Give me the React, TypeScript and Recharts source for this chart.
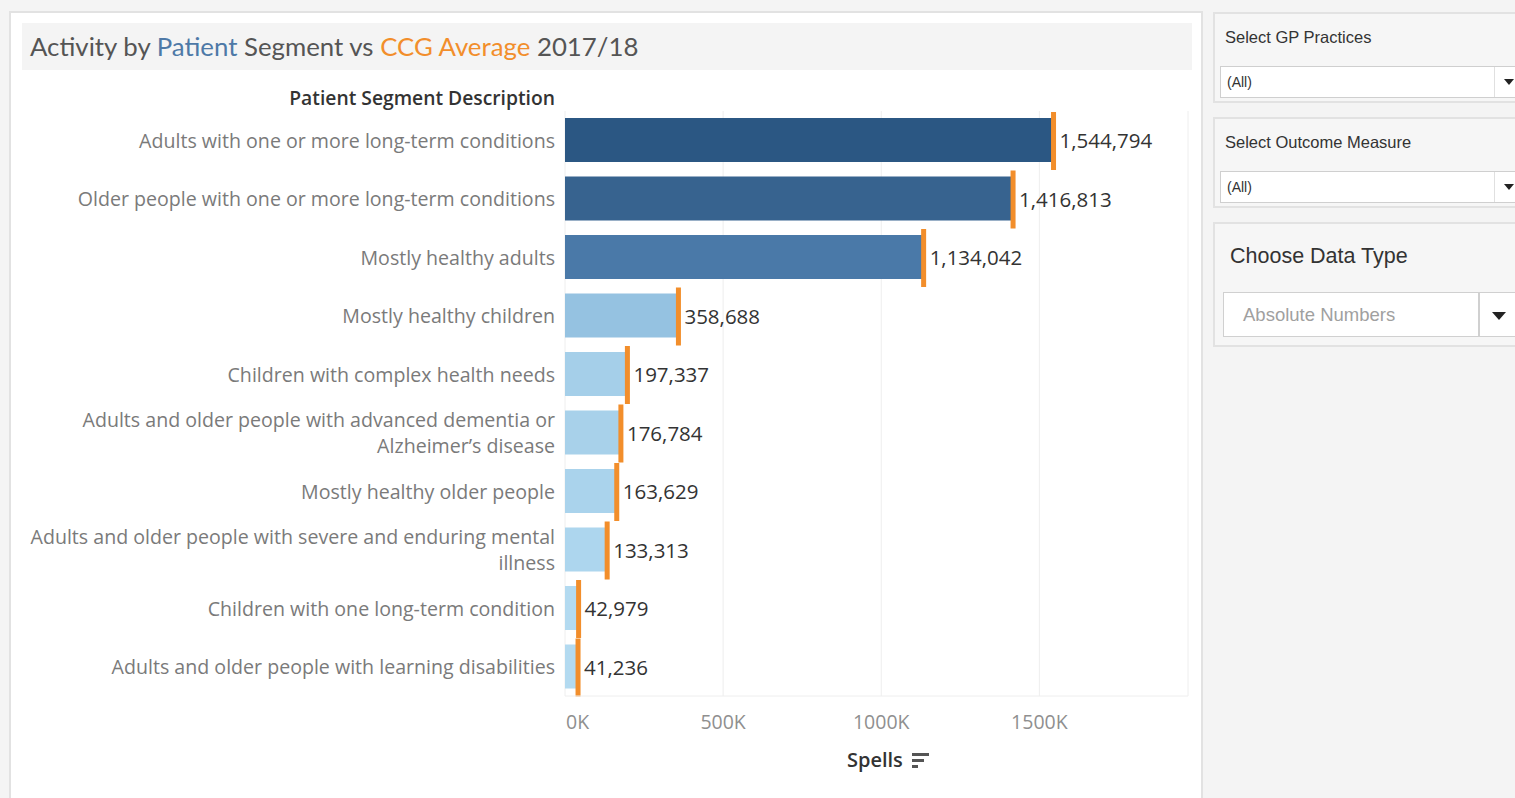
import { BarChart, Bar, XAxis, YAxis, CartesianGrid } from 'recharts';

const segments = [
  'Adults with one or more long-term conditions',
  'Older people with one or more long-term conditions',
  'Mostly healthy adults',
  'Mostly healthy children',
  'Children with complex health needs',
  'Adults and older people with advanced dementia or Alzheimer’s disease',
  'Mostly healthy older people',
  'Adults and older people with severe and enduring mental illness',
  'Children with one long-term condition',
  'Adults and older people with learning disabilities',
];
const spells = [1544794, 1416813, 1134042, 358688, 197337, 176784, 163629, 133313, 42979, 41236];
const ccgAverage = [1544794, 1416813, 1134042, 358688, 197337, 176784, 163629, 133313, 42979, 41236];
const barColors = ['#2b5783', '#37638f', '#4a79a8', '#95c2e1', '#a5cfe9', '#a8d1ea', '#aad3ec', '#add6ee', '#b3daf0', '#b3daf0'];
const xTicks = [0, 500000, 1000000, 1500000];

const data = segments.map((name, i) => ({ name, spells: spells[i], avg: ccgAverage[i], color: barColors[i] }));

const FONT = '"Open Sans", Lato, sans-serif';
const TITLE_FONT = 'Lato, "Open Sans", sans-serif';
const UI_FONT = '"Liberation Sans", Arial, sans-serif';

function wrapLabel(text: string, max = 56) {
  const words = text.split(' ');
  const lines: string[] = [];
  let cur = '';
  words.forEach((w) => {
    const next = cur ? cur + ' ' + w : w;
    if (next.length > max && cur) {
      lines.push(cur);
      cur = w;
    } else cur = next;
  });
  if (cur) lines.push(cur);
  return lines;
}

function SegmentTick(props: any) {
  const { x, y, payload } = props;
  const lines = wrapLabel(payload.value);
  const lh = 26;
  const start = y - ((lines.length - 1) * lh) / 2;
  return (
    <text x={x} textAnchor="end" fill="#7a7a7a" fontSize={19.6} fontFamily={FONT}>
      {lines.map((l, i) => (
        <tspan key={i} x={x} y={start + i * lh} dominantBaseline="central">
          {l}
        </tspan>
      ))}
    </text>
  );
}

function SpellsTick(props: any) {
  const { x, y, payload, index } = props;
  return (
    <text
      x={index === 0 ? x + 1 : x}
      y={y + 17}
      textAnchor={index === 0 ? 'start' : 'middle'}
      dominantBaseline="central"
      fill="#8f8f8f"
      fontSize={19.5}
      fontFamily={FONT}
    >
      {payload.value / 1000 + 'K'}
    </text>
  );
}

function BarWithAverage(props: any) {
  const { x, y, width, height, payload } = props;
  const avgX = payload.spells > 0 ? x + (width * payload.avg) / payload.spells : x;
  return (
    <g>
      <rect x={x} y={y} width={width} height={height} fill={payload.color} />
      <rect x={avgX - 2.5} y={y - 6} width={5} height={height + 14} fill="#f28e2b" />
      <text
        x={avgX + 6}
        y={y + height / 2}
        dominantBaseline="central"
        fill="#333"
        fontSize={20.5}
        fontFamily={FONT}
      >
        {payload.spells.toLocaleString('en-US')}
      </text>
    </g>
  );
}

function Dropdown({ top, label, value }: { top: number; label: string; value: string }) {
  return (
    <div
      style={{
        position: 'absolute',
        left: 1213,
        top,
        width: 310,
        height: 91,
        background: '#f6f6f6',
        border: '2px solid #e2e2e2',
        boxSizing: 'border-box',
      }}
    >
      <div style={{ position: 'absolute', left: 10, top: 14, fontSize: 16.5, color: '#333', fontFamily: UI_FONT }}>
        {label}
      </div>
      <div
        style={{
          position: 'absolute',
          left: 5,
          top: 52,
          width: 300,
          height: 32,
          background: '#fff',
          border: '1px solid #cfcfcf',
          boxSizing: 'border-box',
        }}
      >
        <div style={{ position: 'absolute', left: 6, top: 7, fontSize: 14, color: '#333', fontFamily: UI_FONT }}>
          {value}
        </div>
        <div style={{ position: 'absolute', left: 273, top: 0, width: 1, height: 30, background: '#e0e0e0' }} />
        <div
          style={{
            position: 'absolute',
            left: 283,
            top: 12,
            width: 0,
            height: 0,
            borderLeft: '5px solid transparent',
            borderRight: '5px solid transparent',
            borderTop: '6px solid #222',
          }}
        />
      </div>
    </div>
  );
}

export default function App() {
  return (
    <div style={{ position: 'absolute', left: 0, top: 0, width: 1515, height: 798, overflow: 'hidden', background: '#f4f4f4' }}>
      <div
        style={{
          position: 'absolute',
          left: 9,
          top: 11,
          width: 1194,
          height: 800,
          background: '#fff',
          border: '2px solid #e2e2e2',
          boxSizing: 'border-box',
        }}
      />
      <div style={{ position: 'absolute', left: 22, top: 23, width: 1170, height: 47, background: '#f4f4f4' }} />
      <div style={{ position: 'absolute', left: 30, top: 31, fontSize: 25.8, color: '#555', fontFamily: TITLE_FONT, whiteSpace: 'nowrap' }}>
        Activity by <span style={{ color: '#4e79a7' }}>Patient</span> Segment vs{' '}
        <span style={{ color: '#f28e2b' }}>CCG Average</span> 2017/18
      </div>
      <div
        style={{
          position: 'absolute',
          right: 1515 - 555,
          top: 84,
          fontSize: 19.3,
          color: '#333',
          fontFamily: FONT,
          fontWeight: 600,
          whiteSpace: 'nowrap',
        }}
      >
        Patient Segment Description
      </div>

      <div style={{ position: 'absolute', left: 0, top: 0 }}>
        <BarChart
          width={1200}
          height={798}
          data={data}
          layout="vertical"
          margin={{ top: 111, right: 12, bottom: 62, left: 0 }}
          barSize={44}
        >
          <CartesianGrid horizontal={false} stroke="#eeeeee" />
          <XAxis
            type="number"
            domain={[0, 1970000]}
            ticks={xTicks}
            tick={<SpellsTick />}
            tickLine={false}
            axisLine={{ stroke: '#eeeeee' }}
            height={40}
            interval={0}
          />
          <YAxis
            type="category"
            dataKey="name"
            width={565}
            tick={<SegmentTick />}
            tickLine={false}
            axisLine={false}
            tickSize={0}
            tickMargin={10}
            interval={0}
          />
          <Bar dataKey="spells" shape={<BarWithAverage />} isAnimationActive={false} />
        </BarChart>
      </div>

      <div style={{ position: 'absolute', left: 847, top: 746, fontSize: 20, color: '#333', fontFamily: FONT, fontWeight: 600 }}>
        Spells
      </div>
      <svg style={{ position: 'absolute', left: 912, top: 753 }} width={18} height={16}>
        <rect x={0} y={0} width={17} height={3} fill="#555" />
        <rect x={0} y={6} width={12} height={3} fill="#555" />
        <rect x={0} y={12} width={6} height={3} fill="#555" />
      </svg>

      <Dropdown top={12} label="Select GP Practices" value="(All)" />
      <Dropdown top={117} label="Select Outcome Measure" value="(All)" />

      <div
        style={{
          position: 'absolute',
          left: 1213,
          top: 222,
          width: 310,
          height: 125,
          background: '#f6f6f6',
          border: '2px solid #e2e2e2',
          boxSizing: 'border-box',
        }}
      >
        <div style={{ position: 'absolute', left: 15, top: 20, fontSize: 21.5, color: '#333', fontFamily: UI_FONT }}>
          Choose Data Type
        </div>
        <div
          style={{
            position: 'absolute',
            left: 8,
            top: 68,
            width: 256,
            height: 45,
            background: '#fff',
            border: '1px solid #d0d0d0',
            boxSizing: 'border-box',
          }}
        >
          <div style={{ position: 'absolute', left: 19, top: 11, fontSize: 18.5, color: '#a0a0a0', fontFamily: UI_FONT }}>
            Absolute Numbers
          </div>
        </div>
        <div
          style={{
            position: 'absolute',
            left: 264,
            top: 68,
            width: 50,
            height: 45,
            background: '#fff',
            border: '1px solid #d0d0d0',
            boxSizing: 'border-box',
          }}
        >
          <div
            style={{
              position: 'absolute',
              left: 12,
              top: 19,
              width: 0,
              height: 0,
              borderLeft: '7px solid transparent',
              borderRight: '7px solid transparent',
              borderTop: '8px solid #222',
            }}
          />
        </div>
      </div>
    </div>
  );
}
